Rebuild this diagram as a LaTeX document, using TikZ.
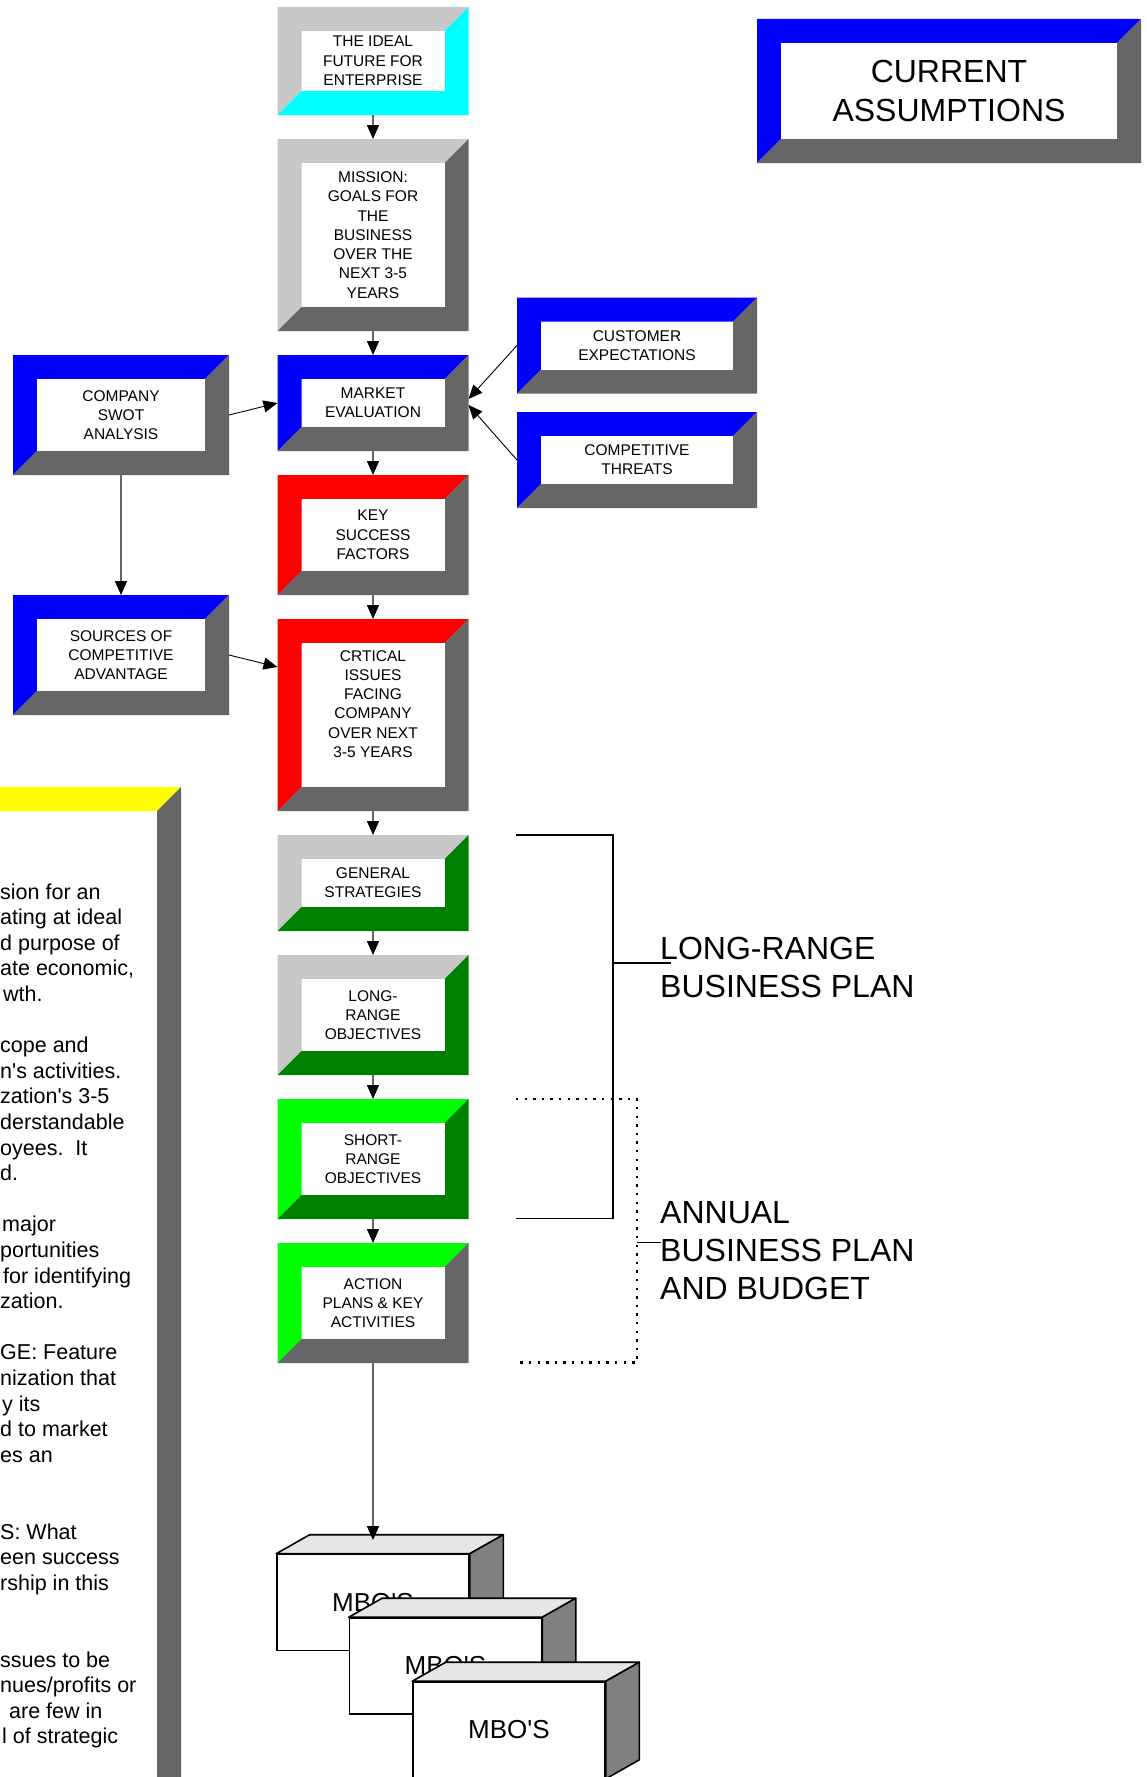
\documentclass[tikz,border=0pt]{standalone}
\usepackage{fontspec}
\setmainfont{Liberation Sans}
\usetikzlibrary{arrows.meta,calc}
\definecolor{lgray}{HTML}{C8C8C8}
\definecolor{dgray}{HTML}{666666}
\definecolor{bblue}{HTML}{0000FF}
\definecolor{bred}{HTML}{FF0000}
\definecolor{bcyan}{HTML}{00FFFF}
\definecolor{bgreen}{HTML}{008000}
\definecolor{blime}{HTML}{00FF00}
\definecolor{byellow}{HTML}{FFFF00}
\definecolor{topface}{HTML}{E6E6E6}
\definecolor{sideface}{HTML}{808080}
\newcommand{\bvw}{24pt}
% name, cx, cy, w, h, TL colour, BR colour, text, text options
\newcommand{\bevelbox}[9]{%
  \node[minimum width=#4pt,minimum height=#5pt,inner sep=0pt,outer sep=0pt] (#1) at (#2,#3) {};
  \fill[#6] (#1.north west) -- (#1.north east) -- ([xshift=-\bvw,yshift=-\bvw]#1.north east)
     -- ([xshift=\bvw,yshift=-\bvw]#1.north west) -- ([xshift=\bvw,yshift=\bvw]#1.south west)
     -- (#1.south west) -- cycle;
  \fill[#7] (#1.north east) -- (#1.south east) -- (#1.south west)
     -- ([xshift=\bvw,yshift=\bvw]#1.south west) -- ([xshift=-\bvw,yshift=\bvw]#1.south east)
     -- ([xshift=-\bvw,yshift=-\bvw]#1.north east) -- cycle;
  \fill[white] ([xshift=\bvw,yshift=-\bvw]#1.north west) rectangle ([xshift=-\bvw,yshift=\bvw]#1.south east);
  \node[boxtext,#9] (#1t) at (#1.center) {#8};
}
\newcommand{\mbobox}[4]{%
  \node[mbofront] (#1) at (#2,#3) {MBO\textquotesingle S};
  \filldraw[mboface,fill=topface] (#1.north west) -- ([xshift=33.5pt,yshift=19pt]#1.north west)
     -- ([xshift=33.5pt,yshift=19pt]#1.north east) -- (#1.north east) -- cycle;
  \filldraw[mboface,fill=sideface] (#1.north east) -- ([xshift=33.5pt,yshift=19pt]#1.north east)
     -- ([xshift=33.5pt,yshift=19pt]#1.south east) -- (#1.south east) -- cycle;
}
\begin{document}
\begin{tikzpicture}[x=1pt,y=-1pt,
  boxtext/.style={align=center,inner sep=0pt,font=\fontsize{15.5}{19.3}\selectfont},
  bigtext/.style={align=center,inner sep=0pt,font=\fontsize{32}{38.5}\selectfont},
  labeltext/.style={align=left,inner sep=0pt,anchor=north west,font=\fontsize{32}{38}\selectfont},
  paneltext/.style={inner sep=0pt,anchor=base west,font=\fontsize{21.5}{25.6}\selectfont},
  conn/.style={draw=dgray,line width=1.5pt,-{Triangle[width=12pt,length=14pt,color=black]}},
  thinconn/.style={draw=black,line width=0.9pt,-{Triangle[width=12pt,length=14pt,color=black]}},
  mbofront/.style={draw=black,fill=white,line width=1.6pt,minimum width=192pt,minimum height=96pt,inner sep=0pt,font=\fontsize{26}{30}\selectfont},
  mboface/.style={draw=black,line width=1.6pt,line join=round},
  bracketline/.style={draw=black,line width=1.8pt},
  dotline/.style={draw=black,line width=2.2pt,dash pattern=on 2.4pt off 6.2pt}
]
\useasboundingbox (0,0) rectangle (1147,1777);
\clip (0,0) rectangle (1147,1777);
\fill[white] (0,0) rectangle (1147,1777);

% left yellow panel
\fill[byellow] (-50,787) -- (181,787) -- (157,811) -- (-50,811) -- cycle;
\fill[dgray] (181,787) -- (181,1800) -- (157,1800) -- (157,811) -- cycle;
\foreach \k/\xo/\t in {0/0/{sion for an},1/0/{ating at ideal},2/0/{d purpose of},3/0/{ate economic,},4/3/{wth.},
  6/0/{cope and},7/0/{n\textquotesingle s activities.},8/0/{zation\textquotesingle s 3-5},9/0/{derstandable},10/0/{oyees.\ \ It},11/0/{d.},
  13/2/{major},14/0/{portunities},15/3/{for identifying},16/0/{zation.},
  18/0/{GE: Feature},19/0/{nization that},20/2/{y its},21/0/{d to market},22/0/{es an},
  25/0/{S: What},26/0/{een success},27/0/{rship in this},
  30/0/{ssues to be},31/0/{nues/profits or},32/9/{are few in},33/2/{l of strategic}}
  {\node[paneltext] (pl\k) at (\xo,{899+25.6*\k}) {\t};}

% main column
\bevelbox{ideal}{373}{61}{191}{108}{lgray}{bcyan}{THE IDEAL\\FUTURE FOR\\ENTERPRISE}{}
\bevelbox{mission}{373}{235}{191}{192}{lgray}{dgray}{MISSION:\\GOALS FOR\\THE\\BUSINESS\\OVER THE\\NEXT 3-5\\YEARS}{}
\bevelbox{market}{373}{403}{191}{96}{bblue}{dgray}{MARKET\\EVALUATION}{}
\bevelbox{key}{373}{535}{191}{120}{bred}{dgray}{KEY\\SUCCESS\\FACTORS}{}
\bevelbox{critical}{373}{715}{191}{192}{bred}{dgray}{CRTICAL\\ISSUES\\FACING\\COMPANY\\OVER NEXT\\3-5 YEARS}{yshift=11pt}
\bevelbox{general}{373}{883}{191}{96}{lgray}{bgreen}{GENERAL\\STRATEGIES}{}
\bevelbox{longr}{373}{1015}{191}{120}{lgray}{bgreen}{LONG-\\RANGE\\OBJECTIVES}{}
\bevelbox{shortr}{373}{1159}{191}{120}{blime}{bgreen}{SHORT-\\RANGE\\OBJECTIVES}{}
\bevelbox{action}{373}{1303}{191}{120}{blime}{dgray}{ACTION\\PLANS \& KEY\\ACTIVITIES}{}

% side boxes
\bevelbox{swot}{121}{415}{216}{120}{bblue}{dgray}{COMPANY\\SWOT\\ANALYSIS}{}
\bevelbox{sources}{121}{655}{216}{120}{bblue}{dgray}{SOURCES OF\\COMPETITIVE\\ADVANTAGE}{}
\bevelbox{customer}{637}{345.5}{240}{96}{bblue}{dgray}{CUSTOMER\\EXPECTATIONS}{}
\bevelbox{threats}{637}{460}{240}{96}{bblue}{dgray}{COMPETITIVE\\THREATS}{}
\bevelbox{current}{949}{91}{384}{144}{bblue}{dgray}{CURRENT\\ASSUMPTIONS}{bigtext}

% connectors
\draw[conn] (ideal.south) -- (mission.north);
\draw[conn] (mission.south) -- (market.north);
\draw[conn] (market.south) -- (key.north);
\draw[conn] (key.south) -- (critical.north);
\draw[conn] (critical.south) -- (general.north);
\draw[conn] (general.south) -- (longr.north);
\draw[conn] (longr.south) -- (shortr.north);
\draw[conn] (shortr.south) -- (action.north);
\draw[conn] (swot.south) -- (sources.north);
\draw[thinconn] (swot.east) -- (market.west);
\draw[thinconn] (sources.east) -- ([yshift=48pt]critical.west);
\draw[thinconn] (customer.west) -- ([yshift=4pt]market.east);
\draw[thinconn] (threats.west) -- ([yshift=-2pt]market.east);

% brackets
\draw[bracketline] (516,835) -- (613,835) -- (613,1218.5) -- (516,1218.5);
\draw[bracketline] (613,963) -- (671,963);
\draw[dotline] (516,1099) -- (637,1099) -- (637,1362.5) -- (516,1362.5);
\draw[draw=black,line width=1.5pt] (637,1242.5) -- (661,1242.5);
\node[labeltext] (lrlabel) at (660,937) {LONG-RANGE\\BUSINESS PLAN};
\node[labeltext] (annlabel) at (660,1201.5) {ANNUAL\\BUSINESS PLAN\\AND BUDGET};

% MBO boxes
\mbobox{mboa}{373}{1602.5}{}
\mbobox{mbob}{445.5}{1666}{}
\mbobox{mboc}{509}{1730}{}
\coordinate (mbotip) at (373,1540);
\draw[conn] (action.south) -- (mbotip);
\end{tikzpicture}
\end{document}
